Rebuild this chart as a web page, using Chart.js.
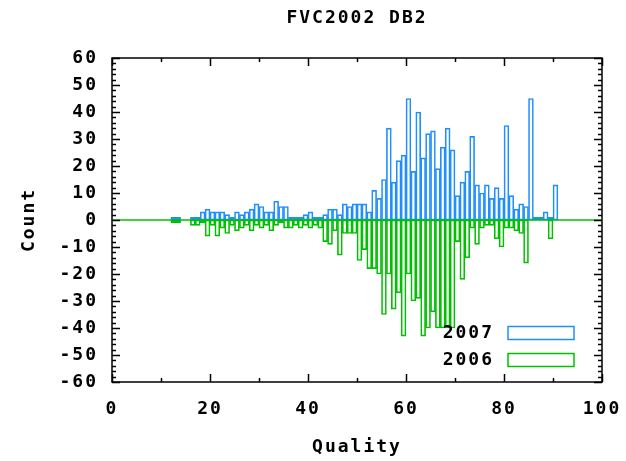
<!DOCTYPE html>
<html>
<head>
<meta charset="utf-8">
<script src="https://cdn.jsdelivr.net/npm/chart.js@4.4.1/dist/chart.umd.min.js"></script>
<style>
  html, body { margin: 0; padding: 0; background: #fff; }
  #wrap { width: 626px; height: 461px; }
</style>
</head>
<body>
<div id="wrap"><canvas id="chart"></canvas></div>
<script>
// quality bins 11..90, one count per bin (2006 drawn downwards)
const firstBin = 11;
const count2007 = [
  0, 1, 1, 0, 0, 1, 1, 3, 4, 3,
  3, 3, 2, 1, 3, 2, 3, 4, 6, 5,
  3, 3, 7, 5, 5, 1, 1, 1, 2, 3,
  1, 1, 2, 4, 4, 2, 6, 5, 6, 6,
  6, 3, 11, 8, 15, 34, 14, 22, 24, 45,
  18, 40, 23, 32, 33, 19, 27, 34, 26, 9,
  14, 18, 31, 13, 10, 13, 8, 12, 8, 35,
  9, 4, 6, 5, 45, 1, 1, 3, 1, 13
];
const count2006 = [
  0, -1, -1, 0, 0, -2, -2, -1, -6, -2,
  -6, -3, -5, -2, -4, -3, -2, -4, -2, -3,
  -2, -4, -2, -1, -3, -3, -2, -3, -2, -3,
  -2, -3, -8, -9, -4, -13, -5, -5, -5, -15,
  -11, -18, -18, -20, -35, -20, -33, -27, -43, -20,
  -30, -29, -43, -40, -34, -40, -40, -40, -40, -8,
  -22, -14, -3, -9, -3, -2, -2, -7, -10, -3,
  -3, -4, -5, -16, 0, 0, 0, 0, -7, 0
];
const xTicks = [0, 20, 40, 60, 80, 100];
const yTicks = [-60, -50, -40, -30, -20, -10, 0, 10, 20, 30, 40, 50, 60];

const blue = '#1f8fff';
const green = '#00c000';
const fontFamily = "'DejaVu Sans Mono', 'Liberation Mono', monospace";

// each bin is a box from q to q+1
const toPoints = arr => arr.map((v, i) => ({ x: firstBin + i + 0.5, y: v }));

Chart.defaults.font.family = fontFamily;
Chart.defaults.font.size = 18;
Chart.defaults.font.weight = 'bold';
Chart.defaults.color = '#000';

// the gnuplot font is wide, spread the letters a bit
const spacingPlugin = {
  id: 'spacing',
  beforeDraw(chart) { chart.ctx.letterSpacing = '2px'; }
};

// gnuplot style border with inward ticks on all four sides
const framePlugin = {
  id: 'frame',
  afterDatasetsDraw(chart) {
    const { ctx, chartArea: a, scales: { x, y } } = chart;
    ctx.save();
    ctx.strokeStyle = '#000';
    ctx.lineWidth = 1.5;
    ctx.beginPath();
    for (let v = 0; v <= 100; v += 10) {
      const px = Math.round(x.getPixelForValue(v)) + 0.5;
      const len = v % 20 === 0 ? 8 : 4;
      ctx.moveTo(px, a.bottom); ctx.lineTo(px, a.bottom - len);
      ctx.moveTo(px, a.top); ctx.lineTo(px, a.top + len);
    }
    for (let v = -60; v <= 60; v += 2) {
      const py = Math.round(y.getPixelForValue(v)) + 0.5;
      const len = v % 10 === 0 ? 8 : 4;
      ctx.moveTo(a.left, py); ctx.lineTo(a.left + len, py);
      ctx.moveTo(a.right, py); ctx.lineTo(a.right - len, py);
    }
    ctx.stroke();
    ctx.strokeRect(a.left, a.top, a.right - a.left, a.bottom - a.top);
    ctx.restore();
  }
};

// key in the lower right corner of the plot
const keyPlugin = {
  id: 'key',
  afterDraw(chart) {
    const { ctx, chartArea: a } = chart;
    const items = chart.data.datasets.filter(d => d.type !== 'line');
    ctx.save();
    ctx.font = `bold 18px ${fontFamily}`;
    ctx.textAlign = 'right';
    ctx.textBaseline = 'middle';
    items.forEach((d, i) => {
      const cy = a.bottom - 49 + i * 27;
      ctx.fillStyle = '#000';
      ctx.fillText(d.label, a.right - 108, cy);
      ctx.strokeStyle = d.borderColor;
      ctx.lineWidth = 1.5;
      ctx.strokeRect(a.right - 94, cy - 6.5, 66, 13);
    });
    ctx.restore();
  }
};

new Chart(document.getElementById('chart'), {
  type: 'bar',
  data: {
    datasets: [
      {
        type: 'line',
        label: 'zero',
        data: [{ x: 0, y: 0 }, { x: 100, y: 0 }],
        borderColor: green,
        borderWidth: 1.5,
        pointRadius: 0,
        order: 0
      },
      {
        label: '2007',
        data: toPoints(count2007),
        borderColor: blue,
        backgroundColor: 'rgba(0,0,0,0)',
        borderWidth: 1,
        borderSkipped: false,
        grouped: false,
        barPercentage: 1,
        categoryPercentage: 1,
        order: 1
      },
      {
        label: '2006',
        data: toPoints(count2006),
        borderColor: green,
        backgroundColor: 'rgba(0,0,0,0)',
        borderWidth: 1,
        borderSkipped: false,
        grouped: false,
        barPercentage: 1,
        categoryPercentage: 1,
        order: 2
      }
    ]
  },
  options: {
    responsive: true,
    maintainAspectRatio: false,
    animation: false,
    layout: { padding: { left: 0, right: 24, top: 0, bottom: 0 } },
    plugins: {
      legend: { display: false },
      tooltip: { enabled: false },
      title: {
        display: true,
        fullSize: false,
        text: 'FVC2002 DB2',
        font: { size: 18, weight: 'bold' },
        color: '#000',
        padding: { top: 8, bottom: 28.4 }
      }
    },
    scales: {
      x: {
        type: 'linear',
        min: 0,
        max: 100,
        offset: false,
        afterBuildTicks: s => { s.ticks = xTicks.map(v => ({ value: v })); },
        afterFit: s => { s.height = 79; s.paddingLeft = 0; s.paddingRight = 0; },
        grid: { display: false, drawTicks: false },
        border: { display: false },
        ticks: { padding: 17, maxRotation: 0, autoSkip: false },
        title: { display: true, text: 'Quality', padding: { top: 0, bottom: 3 } }
      },
      y: {
        min: -60,
        max: 60,
        afterBuildTicks: s => { s.ticks = yTicks.map(v => ({ value: v })); },
        afterFit: s => { s.width = 112; s.paddingTop = 0; s.paddingBottom = 0; },
        grid: { display: false, drawTicks: false },
        border: { display: false },
        ticks: { padding: 14, autoSkip: false },
        title: { display: true, text: 'Count', padding: { top: 19, bottom: 0 } }
      }
    }
  },
  plugins: [spacingPlugin, framePlugin, keyPlugin]
});
</script>
</body>
</html>
